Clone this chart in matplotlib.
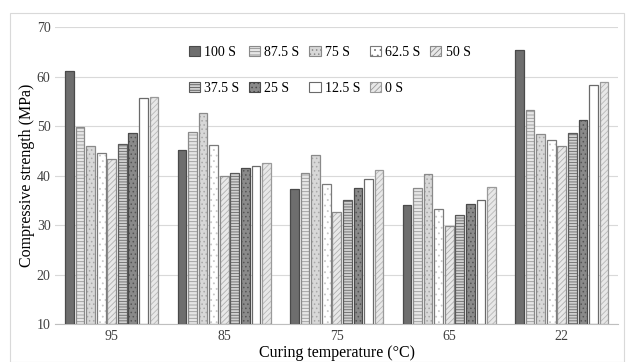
import matplotlib.pyplot as plt
import numpy as np
from matplotlib.patches import Rectangle

plt.rcParams['font.family'] = ['Liberation Serif', 'DejaVu Serif']
plt.rcParams['hatch.linewidth'] = 0.6

temps = ['95', '85', '75', '65', '22']
series = ['100 S', '87.5 S', '75 S', '62.5 S', '50 S', '37.5 S', '25 S', '12.5 S', '0 S']
s100 = [61.2, 45.2, 37.2, 34.1, 65.4]
s875 = [49.9, 48.8, 40.5, 37.4, 53.2]
s75 = [46.0, 52.6, 44.1, 40.3, 48.4]
s625 = [44.5, 46.2, 38.2, 33.3, 47.2]
s50 = [43.3, 39.9, 32.6, 29.8, 45.9]
s375 = [46.3, 40.6, 35.0, 32.0, 48.6]
s25 = [48.7, 41.6, 37.5, 34.3, 51.2]
s125 = [55.7, 42.0, 39.3, 35.1, 58.4]
s0 = [55.9, 42.5, 41.2, 37.6, 59.0]
values = [s100, s875, s75, s625, s50, s375, s25, s125, s0]

# face colour, hatch, hatch colour, outline colour
styles = [
    ('#6e6e6e', '', '#6e6e6e', '#4a4a4a'),
    ('#e6e6e6', '-----', '#9a9a9a', '#8a8a8a'),
    ('#d8d8d8', '....', '#a8a8a8', '#8a8a8a'),
    ('white', '...', '#c8c8c8', '#7a7a7a'),
    ('#e8e8e8', '//////', '#b0b0b0', '#8a8a8a'),
    ('#d0d0d0', '------', '#6a6a6a', '#5a5a5a'),
    ('#8a8a8a', '....', '#555555', '#4a4a4a'),
    ('white', '', 'white', '#6a6a6a'),
    ('#e8e8e8', '//////', '#b8b8b8', '#9a9a9a'),
]

fig = plt.figure(figsize=(6.3, 3.62), dpi=100)
ax = fig.add_axes([0.088, 0.105, 0.893, 0.82])

x = np.arange(len(temps))
slot = 0.094
w = 0.078
handles = []
for i, (vals, st) in enumerate(zip(values, styles)):
    fc, h, hc, ec = st
    pos = x + (i - 4) * slot
    ax.bar(pos, np.array(vals) - 10, w, bottom=10, color=fc, hatch=h,
           edgecolor=hc, linewidth=0, zorder=2)
    ax.bar(pos, np.array(vals) - 10, w, bottom=10, fill=False,
           edgecolor=ec, linewidth=0.9, zorder=3)
    handles.append(Rectangle((0, 0), 1, 1, facecolor=fc, hatch=h,
                             edgecolor=ec, linewidth=0.8))

ax.set_ylim(10, 70)
ax.set_xlim(-0.5, 4.5)
ax.set_yticks(range(10, 71, 10))
ax.set_xticks(x)
ax.set_xticklabels(temps)
ax.grid(axis='y', color='#d9d9d9', linewidth=0.8, zorder=0)
ax.set_axisbelow(True)
for s in ['top', 'right', 'left']:
    ax.spines[s].set_visible(False)
ax.spines['bottom'].set_color('#bfbfbf')
ax.tick_params(axis='both', length=0, labelsize=10, colors='#404040')
ax.tick_params(axis='x', pad=4)
ax.set_ylabel('Compressive strength (MPa)', fontsize=11.5, labelpad=1)
ax.set_xlabel('Curing temperature (°C)', fontsize=11.5, labelpad=2)

# legend filled column-major, so reorder to read row by row
order = [0, 5, 1, 6, 2, 7, 3, 8, 4]
ax.legend([handles[k] for k in order], [series[k] for k in order], ncol=5,
          loc='upper left', bbox_to_anchor=(0.215, 0.98), frameon=False,
          fontsize=10, handlelength=0.8, handleheight=0.8, handletextpad=0.3,
          columnspacing=0.7, labelspacing=1.65)

fig.patches.append(Rectangle((0.016, 0.0), 0.975, 0.965, transform=fig.transFigure,
                             fill=False, edgecolor='#d9d9d9', linewidth=0.8))

plt.savefig('out.png', dpi=100)
